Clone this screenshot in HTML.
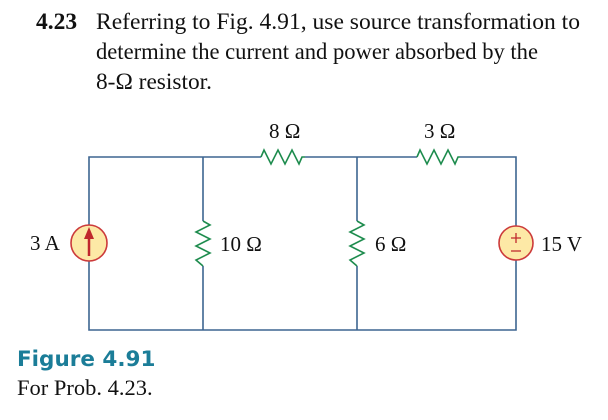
<!DOCTYPE html>
<html><head><style>
html,body{margin:0;padding:0;background:#fff;width:608px;height:420px;overflow:hidden}
svg{display:block}
</style></head><body>
<svg width="608" height="420" viewBox="0 0 608 420" xmlns="http://www.w3.org/2000/svg">
<g font-family="Liberation Serif, serif" fill="#111" font-size="23.5">
<text x="36" y="29" font-weight="bold">4.23</text>
<text x="96" y="29" textLength="484" lengthAdjust="spacingAndGlyphs">Referring to Fig. 4.91, use source transformation to</text>
<text x="96" y="59" textLength="442" lengthAdjust="spacingAndGlyphs">determine the current and power absorbed by the</text>
<text x="96" y="89" textLength="116" lengthAdjust="spacingAndGlyphs">8-Ω resistor.</text>
</g>
<g fill="none" stroke="#3d6591" stroke-width="1.6">
<path d="M89 225 V157 H261 M305 157 H417 M460 157 H516 V226"/>
<path d="M89 261 V330 H516 V260"/>
<path d="M203 157 V221 M203 266 V330"/>
<path d="M357 157 V221 M357 266 V330"/>
</g>
<g fill="none" stroke="#1e8c4e" stroke-width="1.6" stroke-linejoin="miter">
<path d="M261 157 L264 150 L271 164 L278 150 L285 164 L292 150 L299 164 L302 157 L305 157"/>
<path d="M417 157 L420 150 L427 164 L434 150 L441 164 L448 150 L455 164 L458 157 L460 157"/>
<path d="M203 221 L210 225 L196 232 L210 239 L196 246 L210 253 L196 260 L203 266"/>
<path d="M357 221 L364 225 L350 232 L364 239 L350 246 L364 253 L350 260 L357 266"/>
</g>
<circle cx="89" cy="243" r="18" fill="#fde9a6" stroke="#cc3b3b" stroke-width="1.6"/>
<path d="M89 256 V236" stroke="#c0282d" stroke-width="2.5"/>
<path d="M84 239 L89 227 L94 239 Z" fill="#c0282d"/>
<circle cx="516" cy="243" r="17" fill="#fde9a6" stroke="#cc3b3b" stroke-width="1.6"/>
<path d="M511 238 H521 M516 233 V243 M511 251 H521" stroke="#c0282d" stroke-width="1.3"/>
<g font-family="Liberation Serif, serif" fill="#111" font-size="21">
<text x="269" y="138">8 Ω</text>
<text x="424" y="138">3 Ω</text>
<text x="30" y="250">3 A</text>
<text x="220" y="251">10 Ω</text>
<text x="375" y="251">6 Ω</text>
<text x="541" y="251">15 V</text>
<text x="17" y="395" font-size="22.5">For Prob. 4.23.</text>
</g>
<text x="17" y="366" font-family="DejaVu Sans, sans-serif" font-weight="bold" font-size="21.5" fill="#1b7d98">Figure 4.91</text>
</svg>
</body></html>
